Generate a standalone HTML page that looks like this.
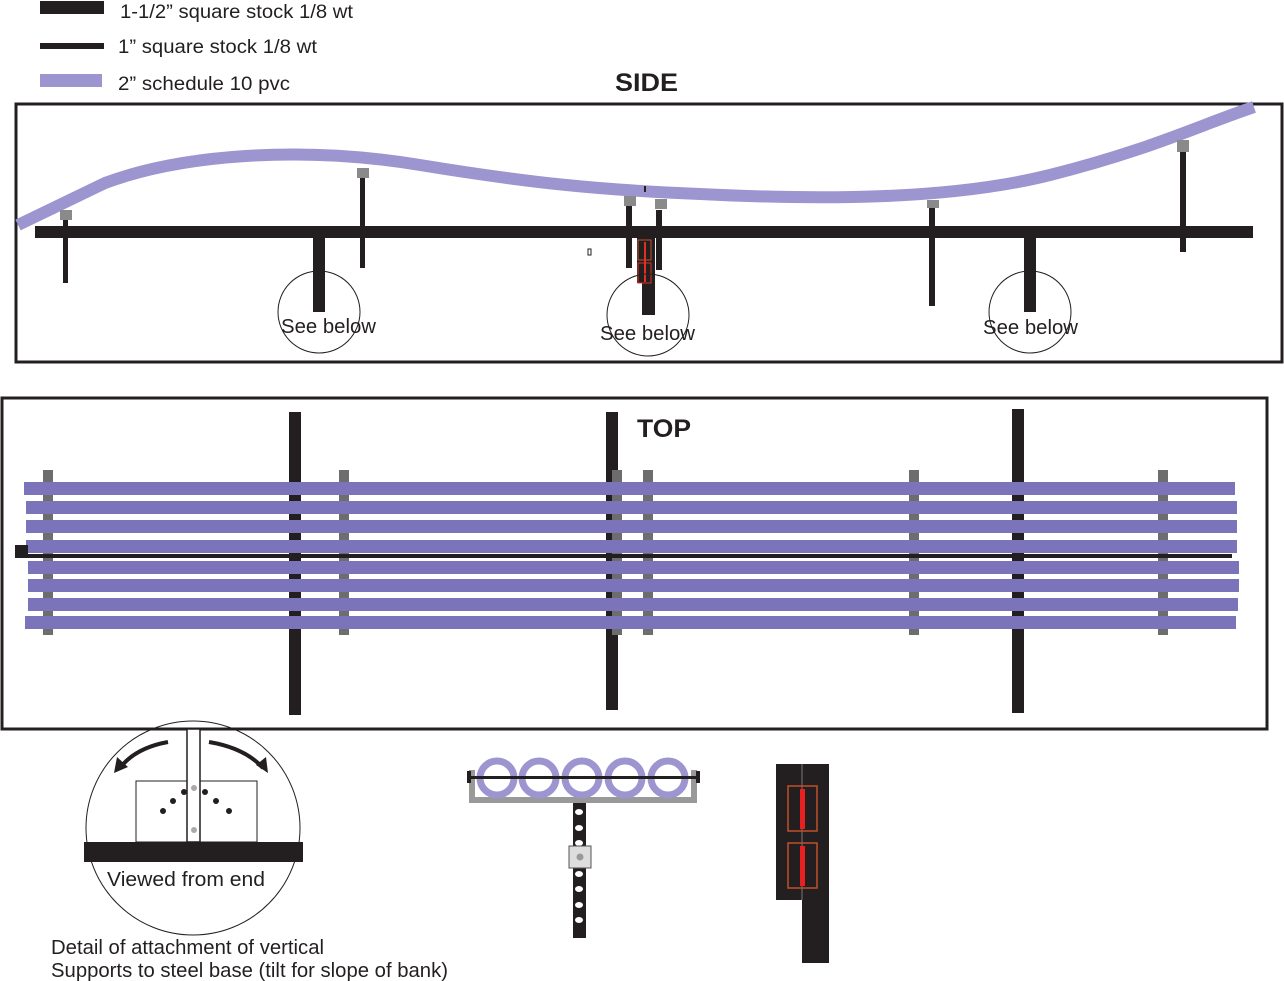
<!DOCTYPE html>
<html><head><style>body{margin:0;background:#fff}svg{display:block}text{font-family:"Liberation Sans",sans-serif}</style></head><body>
<svg width="1284" height="981" viewBox="0 0 1284 981">
<!-- legend -->
<rect x="40" y="1" width="64" height="13" fill="#231f20"/>
<text x="120" y="18" font-size="19" fill="#231f20" textLength="233" lengthAdjust="spacingAndGlyphs">1-1/2” square stock 1/8 wt</text>
<rect x="40" y="43" width="64" height="6" fill="#231f20"/>
<text x="118" y="53" font-size="19" fill="#231f20" textLength="199" lengthAdjust="spacingAndGlyphs">1” square stock 1/8 wt</text>
<rect x="40" y="74" width="62" height="13" fill="#9c95cf"/>
<text x="118" y="90" font-size="19" fill="#231f20" textLength="172" lengthAdjust="spacingAndGlyphs">2” schedule 10 pvc</text>
<text x="615" y="91" font-size="25" font-weight="bold" fill="#231f20" textLength="63" lengthAdjust="spacingAndGlyphs">SIDE</text>
<!-- side box -->
<rect x="16" y="104" width="1266" height="258" fill="none" stroke="#231f20" stroke-width="3"/>
<path d="M18,225 L105,183 C180,155 300,145 420,165 C530,183 600,190 700,194 C820,200 950,200 1050,175 C1150,150 1200,125 1254,107" fill="none" stroke="#9c95cf" stroke-width="12"/>
<rect x="35" y="226" width="1218" height="12" fill="#231f20"/>
<g fill="#231f20">
<rect x="63" y="220" width="5" height="63"/>
<rect x="360" y="178" width="5" height="90"/>
<rect x="626" y="205" width="6" height="63"/>
<rect x="656" y="210" width="6" height="60"/>
<rect x="929" y="208" width="6" height="98"/>
<rect x="1180" y="150" width="6" height="102"/>
<rect x="313" y="238" width="12" height="74"/>
<rect x="1024" y="238" width="12" height="74"/>
<rect x="637" y="238" width="18" height="45"/>
<rect x="642" y="283" width="13" height="32"/>
</g>
<g fill="#8a8a8a">
<rect x="60" y="210" width="12" height="10"/>
<rect x="357" y="168" width="12" height="10"/>
<rect x="624" y="196" width="12" height="10"/>
<rect x="655" y="199" width="12" height="10"/>
<rect x="927" y="200" width="12" height="8"/>
<rect x="1177" y="140" width="12" height="12"/>
</g>
<rect x="638" y="240" width="13" height="20" fill="none" stroke="#c0502a" stroke-width="1"/>
<rect x="638" y="263" width="13" height="20" fill="none" stroke="#e03020" stroke-width="1"/>
<rect x="644" y="242" width="2" height="40" fill="#e03020"/>
<rect x="588" y="249" width="3" height="6" fill="none" stroke="#231f20" stroke-width="1"/>
<rect x="644" y="186" width="2" height="6" fill="#231f20"/>
<g fill="none" stroke="#231f20" stroke-width="1">
<circle cx="319" cy="312" r="41"/><circle cx="648" cy="315" r="41"/><circle cx="1030" cy="312" r="41"/>
</g>
<g font-size="20" fill="#231f20">
<text x="281" y="333" textLength="95" lengthAdjust="spacingAndGlyphs">See below</text><text x="600" y="340" textLength="95" lengthAdjust="spacingAndGlyphs">See below</text><text x="983" y="334" textLength="95" lengthAdjust="spacingAndGlyphs">See below</text>
</g>
<!-- top box -->
<rect x="2" y="398" width="1265" height="331" fill="none" stroke="#231f20" stroke-width="3"/>
<text x="637" y="437" font-size="25" font-weight="bold" fill="#231f20" textLength="54" lengthAdjust="spacingAndGlyphs">TOP</text>
<g fill="#231f20">
<rect x="289" y="412" width="12" height="303"/>
<rect x="606" y="412" width="12" height="298"/>
<rect x="1012" y="409" width="12" height="304"/>
</g>
<g fill="#6d6d6d">
<rect x="43" y="470" width="10" height="165"/><rect x="339" y="470" width="10" height="165"/>
<rect x="612" y="470" width="10" height="165"/><rect x="643" y="470" width="10" height="165"/>
<rect x="909" y="470" width="10" height="165"/><rect x="1158" y="470" width="10" height="165"/>
</g>
<g fill="#7b74bb">
<rect x="24" y="482" width="1211" height="13"/><rect x="26" y="501" width="1211" height="13"/>
<rect x="26" y="520" width="1211" height="13"/><rect x="26" y="540" width="1211" height="13"/>
<rect x="28" y="561" width="1211" height="13"/><rect x="28" y="579" width="1211" height="13"/>
<rect x="28" y="598" width="1210" height="13"/><rect x="25" y="616" width="1211" height="13"/>
</g>
<rect x="15" y="545" width="13" height="12" fill="#231f20"/>
<rect x="15" y="554" width="1217" height="4" fill="#231f20"/>
<!-- detail 1 -->
<circle cx="193" cy="828" r="107" fill="none" stroke="#231f20" stroke-width="1"/>
<rect x="136" y="781" width="121" height="61" fill="#fff" stroke="#231f20" stroke-width="1"/>
<rect x="187" y="729" width="13" height="113" fill="#fff" stroke="#231f20" stroke-width="1.5"/>
<rect x="84" y="842" width="219" height="20" fill="#231f20"/>
<g fill="#231f20"><circle cx="184" cy="792" r="3"/><circle cx="173" cy="801" r="3"/><circle cx="163" cy="811" r="3"/><circle cx="205" cy="792" r="3"/><circle cx="216" cy="801" r="3"/><circle cx="229" cy="811" r="3"/></g>
<circle cx="194" cy="788" r="3" fill="#aaa"/><circle cx="194" cy="830" r="3" fill="#aaa"/>
<path d="M168,742 Q135,748 120,768" fill="none" stroke="#231f20" stroke-width="4"/>
<path d="M114,773 L117,757 L128,767 Z" fill="#231f20"/>
<path d="M209,742 Q245,748 263,768" fill="none" stroke="#231f20" stroke-width="4"/>
<path d="M268,773 L256,765 L266,757 Z" fill="#231f20"/>
<text x="107" y="886" font-size="20" fill="#231f20" textLength="158" lengthAdjust="spacingAndGlyphs">Viewed  from end</text>
<text x="51" y="954" font-size="20" fill="#231f20" textLength="273" lengthAdjust="spacingAndGlyphs">Detail of attachment of vertical</text>
<text x="51" y="977" font-size="20" fill="#231f20" textLength="397" lengthAdjust="spacingAndGlyphs">Supports to steel base (tilt for slope of bank)</text>
<!-- detail 2 -->
<path d="M472,770 L472,800 L694,800 L694,770" fill="none" stroke="#999" stroke-width="6"/>
<g fill="none" stroke="#9c95cf" stroke-width="7">
<circle cx="497" cy="778" r="17"/><circle cx="539" cy="778" r="17"/><circle cx="582" cy="778" r="17"/><circle cx="625" cy="778" r="17"/><circle cx="668" cy="778" r="17"/>
</g>
<rect x="470" y="776" width="230" height="3" fill="#231f20"/>
<rect x="467" y="771" width="4" height="12" fill="#231f20"/><rect x="696" y="771" width="4" height="12" fill="#231f20"/>
<rect x="573" y="803" width="13" height="135" fill="#231f20"/>
<g fill="#fff"><ellipse cx="579" cy="812" rx="4" ry="3"/><ellipse cx="579" cy="828" rx="4" ry="3"/><ellipse cx="579" cy="843" rx="4" ry="3"/><ellipse cx="579" cy="874" rx="4" ry="3"/><ellipse cx="579" cy="889" rx="4" ry="3"/><ellipse cx="579" cy="905" rx="4" ry="3"/><ellipse cx="579" cy="920" rx="4" ry="3"/></g>
<rect x="569" y="846" width="22" height="22" fill="#ddd" stroke="#555" stroke-width="1"/>
<circle cx="580" cy="857" r="3.5" fill="#999"/>
<!-- detail 3 -->
<rect x="776" y="764" width="53" height="136" fill="#231f20"/>
<rect x="802" y="900" width="27" height="63" fill="#231f20"/>
<line x1="802" y1="764" x2="802" y2="900" stroke="#777" stroke-width="1"/>
<rect x="788" y="786" width="29" height="45" fill="none" stroke="#c0502a" stroke-width="1.5"/>
<rect x="788" y="843" width="29" height="45" fill="none" stroke="#c0502a" stroke-width="1.5"/>
<rect x="800" y="789" width="5" height="40" fill="#e82020"/>
<rect x="800" y="846" width="5" height="40" fill="#e82020"/>
</svg>
</body></html>
